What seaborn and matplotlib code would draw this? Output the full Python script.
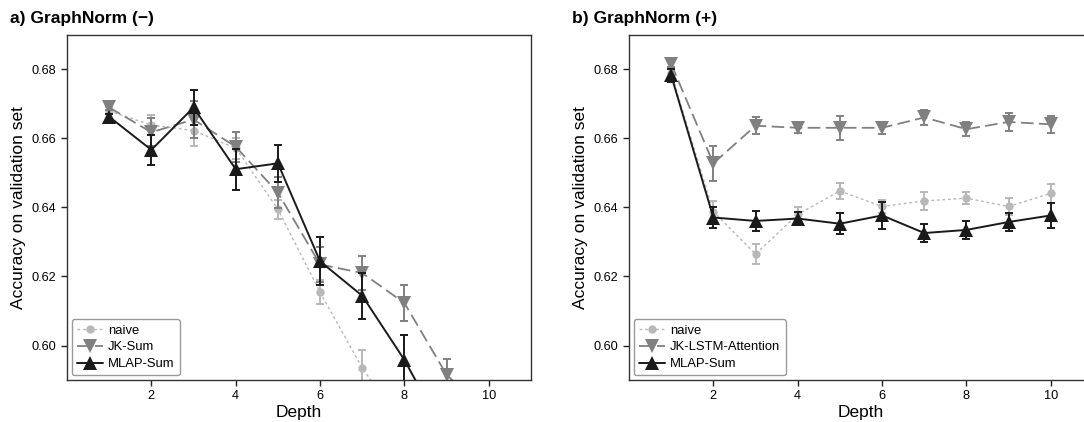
import numpy as np
import pandas as pd
import seaborn as sns
import matplotlib.pyplot as plt

depth = [1, 2, 3, 4, 5, 6, 7, 8, 9, 10]

# panel a) GraphNorm (-)
a_naive = [0.668, 0.6639, 0.6623, 0.6572, 0.6395, 0.6154, 0.5935, 0.576, 0.565, 0.555]
a_naive_err = [0.001, 0.003, 0.0045, 0.003, 0.0028, 0.0035, 0.0053, 0.005, 0.005, 0.005]
a_jk = [0.669, 0.6618, 0.6655, 0.6576, 0.6443, 0.6235, 0.6210, 0.6123, 0.5915, 0.580]
a_jk_err = [0.0008, 0.004, 0.0055, 0.0043, 0.0045, 0.005, 0.0048, 0.0052, 0.0047, 0.005]
a_mlap = [0.6663, 0.6567, 0.669, 0.6511, 0.6528, 0.6244, 0.6144, 0.5958, 0.5734, 0.560]
a_mlap_err = [0.0008, 0.0043, 0.005, 0.006, 0.0053, 0.007, 0.0067, 0.0073, 0.006, 0.006]

# panel b) GraphNorm (+)
b_naive = [0.679, 0.6388, 0.6265, 0.638, 0.6448, 0.6403, 0.6419, 0.6427, 0.6403, 0.6441]
b_naive_err = [0.0015, 0.003, 0.0028, 0.002, 0.0024, 0.002, 0.0025, 0.0017, 0.0025, 0.0028]
b_jk = [0.6816, 0.6528, 0.6637, 0.6631, 0.6631, 0.6631, 0.6661, 0.6627, 0.6648, 0.6641]
b_jk_err = [0.001, 0.005, 0.0025, 0.0015, 0.0035, 0.0018, 0.0023, 0.002, 0.0027, 0.0025]
b_mlap = [0.6783, 0.6371, 0.6361, 0.6368, 0.6353, 0.6377, 0.6326, 0.6335, 0.6358, 0.6377]
b_mlap_err = [0.0018, 0.003, 0.003, 0.002, 0.003, 0.004, 0.0027, 0.0025, 0.0025, 0.0035]

sns.set_style("ticks")
plt.rcParams['font.family'] = ['Liberation Sans', 'DejaVu Sans']
plt.rcParams['text.color'] = 'black'
plt.rcParams['axes.labelcolor'] = 'black'
plt.rcParams['xtick.color'] = 'black'
plt.rcParams['ytick.color'] = 'black'

styles = [
    # color, marker, size, linestyle, linewidth
    ('#b8b8b8', 'o', 6, (0, (2, 2)), 1.0),
    ('#808080', 'v', 9.5, (0, (7, 3)), 1.3),
    ('#1a1a1a', '^', 9.5, '-', 1.4),
]


def draw_panel(ax, series, title):
    for (name, vals, errs), (col, mk, ms, ls, lw) in zip(series, styles):
        df = pd.DataFrame({'Depth': depth, 'acc': vals})
        sns.lineplot(data=df, x='Depth', y='acc', ax=ax, color=col, marker=mk,
                     markersize=ms, markeredgewidth=0, linestyle=ls, linewidth=lw,
                     label=name)
        ax.errorbar(depth, vals, yerr=errs, fmt='none', ecolor=col,
                    elinewidth=1.4, capsize=3, capthick=1.4)
    ax.set_xlim(0, 11)
    ax.set_ylim(0.59, 0.69)
    ax.set_xticks([2, 4, 6, 8, 10])
    ax.set_yticks([0.60, 0.62, 0.64, 0.66, 0.68])
    ax.set_yticklabels(['0.60', '0.62', '0.64', '0.66', '0.68'])
    ax.tick_params(labelsize=9.2, length=4, width=1, color='#222222', direction='out')
    ax.set_xlabel('Depth', fontsize=12.5, labelpad=2)
    ax.set_ylabel('Accuracy on validation set', fontsize=12.5, labelpad=4)
    for sp in ax.spines.values():
        sp.set_visible(True)
        sp.set_color('#333333')
        sp.set_linewidth(1.0)
    leg = ax.legend(loc='lower left', fontsize=9.4, handlelength=2.0,
                    borderaxespad=0.35, framealpha=1, edgecolor='#999999',
                    labelspacing=0.35, handletextpad=0.4)
    leg.get_frame().set_linewidth(1.0)
    ax.text(-0.123, 1.025, title, transform=ax.transAxes, fontsize=12.5,
            fontweight='bold', ha='left', va='bottom')


fig = plt.figure(figsize=(10.84, 4.22), dpi=100)
ax1 = fig.add_axes([67 / 1084, 42 / 422, 464 / 1084, 345 / 422])
ax2 = fig.add_axes([629 / 1084, 42 / 422, 464 / 1084, 345 / 422])

draw_panel(ax1, [('naive', a_naive, a_naive_err),
                 ('JK-Sum', a_jk, a_jk_err),
                 ('MLAP-Sum', a_mlap, a_mlap_err)], 'a) GraphNorm (\u2212)')
draw_panel(ax2, [('naive', b_naive, b_naive_err),
                 ('JK-LSTM-Attention', b_jk, b_jk_err),
                 ('MLAP-Sum', b_mlap, b_mlap_err)], 'b) GraphNorm (+)')

fig.savefig('out.png', dpi=100)
